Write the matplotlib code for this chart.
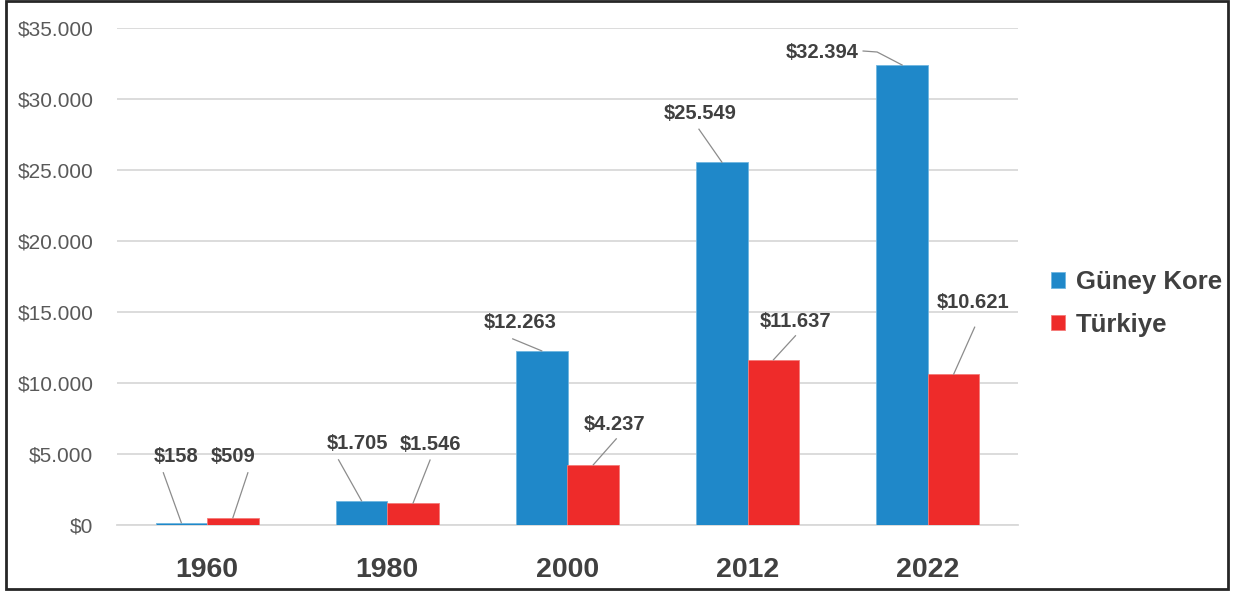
import matplotlib
matplotlib.use("Agg")
import matplotlib.pyplot as plt
from matplotlib.ticker import FuncFormatter, MultipleLocator
from matplotlib.patches import Rectangle
from matplotlib.lines import Line2D
import numpy as np

# ---- data ----
years = ["1960", "1980", "2000", "2012", "2022"]
kore = [158, 1705, 12263, 25549, 32394]
turkiye = [509, 1546, 4237, 11637, 10621]
series_names = ["Güney Kore", "Türkiye"]

# ---- style ----
BLUE = "#1f88c9"
RED = "#ee2b2a"
TXT = "#404040"
GRID = "#d9d9d9"
LEAD = "#8c8c8c"
FONT = ["Liberation Sans", "DejaVu Sans"]
plt.rcParams["font.family"] = FONT

def fmt_money(v, pos=None):
    return "$" + f"{int(round(v)):,}".replace(",", ".")

fig = plt.figure(figsize=(12.35, 5.92), dpi=100)
ax = fig.add_axes([117 / 1235, 1 - 525 / 592, (1018 - 117) / 1235, (525 - 28) / 592])

x = np.arange(len(years))
w = 0.286
b1 = ax.bar(x - w / 2, kore, width=w, color=BLUE, edgecolor="#6fb6e0", linewidth=0.6, zorder=3)
b2 = ax.bar(x + w / 2, turkiye, width=w, color=RED, edgecolor="#f47a78", linewidth=0.6, zorder=3)

ax.set_xlim(-0.5, len(years) - 0.5)
ax.set_ylim(0, 35000)
ax.yaxis.set_major_locator(MultipleLocator(5000))
ax.yaxis.set_major_formatter(FuncFormatter(fmt_money))
ax.grid(axis="y", color=GRID, linewidth=1.3, zorder=0)
for s in ["top", "right", "left"]:
    ax.spines[s].set_visible(False)
ax.spines["bottom"].set_color(GRID)
ax.spines["bottom"].set_linewidth(1.3)
ax.tick_params(axis="y", length=0, pad=17, labelsize=15, labelcolor="#595959")
ax.tick_params(axis="x", length=0, pad=23)
ax.set_xticks(x)
ax.set_xticklabels(years, fontsize=20.5, fontweight="bold", color=TXT)

# label text offsets (pixels, text centre relative to bar top centre)
off_k = [(-5, 66), (-4, 57), (-22, 28), (-22, 49), (-80, 13)]
off_t = [(0, 61), (17, 59), (21, 40), (22, 38), (19, 72)]
# leader line points (pixels relative to bar top centre), ending at bar top
lead_k = [[(-18, 50)], [(-23, 41)], [(-29, 12)], [(-23, 33)], [(-39, 14), (-25, 13)]]
lead_t = [[(15, 45)], [(17, 43)], [(23, 26)], [(22, 24)], [(21, 47)]]

for bars, vals, offs, leads in [(b1, kore, off_k, lead_k), (b2, turkiye, off_t, lead_t)]:
    for bar, v, (dx, dy), pts in zip(bars, vals, offs, leads):
        cx = bar.get_x() + bar.get_width() / 2
        ax.annotate(fmt_money(v), xy=(cx, v), xytext=(dx, dy),
                    textcoords="offset pixels", ha="center", va="center",
                    fontsize=14.5, fontweight="bold", color=TXT, zorder=5)
        px, py = ax.transData.transform((cx, v))
        xs = [px + p[0] for p in pts] + [px]
        ys = [py + p[1] for p in pts] + [py]
        fig.add_artist(Line2D(xs, ys, transform=None, color=LEAD, lw=0.9, zorder=5))

# legend
leg = fig.legend([b1, b2], series_names, loc="center left",
                 bbox_to_anchor=(1051 / 1235, 1 - 303.5 / 592), frameon=False,
                 prop=dict(family=FONT, weight="bold", size=18.5),
                 handlelength=0.56, handleheight=0.56, handletextpad=0.4,
                 labelspacing=0.72, borderpad=0, borderaxespad=0)
for t in leg.get_texts():
    t.set_color(TXT)

# outer border
fig.add_artist(Rectangle((6 / 1235, 3 / 592), (1228 - 6) / 1235, (591 - 3) / 592,
                         transform=fig.transFigure, fill=False,
                         edgecolor="#262626", linewidth=2))

fig.savefig("out.png", dpi=100, facecolor="white")
